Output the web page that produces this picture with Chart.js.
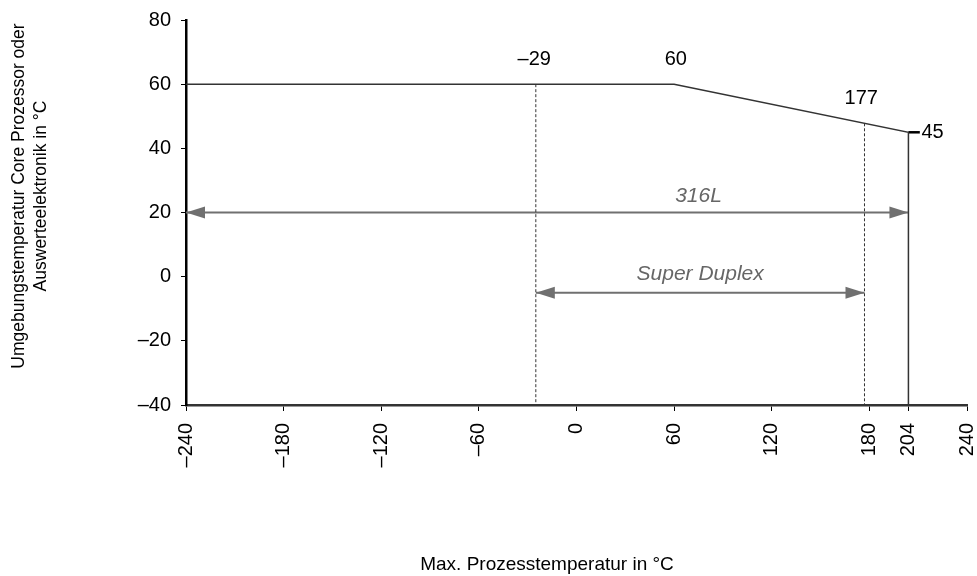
<!DOCTYPE html>
<html>
<head>
<meta charset="utf-8">
<script src="https://cdn.jsdelivr.net/npm/chart.js@4/dist/chart.umd.min.js"></script>
<style>
html, body { margin: 0; padding: 0; background: #fff; }
#rahmen { width: 977px; height: 576px; }
</style>
</head>
<body>
<div id="rahmen"><canvas id="graficoTemperatur"></canvas></div>
<script>
// Daten der Kurve (Prozesstemperatur -> Umgebungstemperatur)
var kurveX = [-240, 60, 204, 204];
var kurveY = [60, 60, 45, -40];

var markeX = [204, 211];
var markeY = [45, 45];

var strichLinksX = [-25, -25];
var strichLinksY = [60, -40];
var strichRechtsX = [177, 177];
var strichRechtsY = [47.8, -40];

var pfeil316X = [-240, 204];
var pfeil316Y = [20, 20];
var pfeilDuplexX = [-25, 177];
var pfeilDuplexY = [-5, -5];

var werteTexte = ['\u201329', '60', '177', '45'];
var werteX = [-26, 61, 175, 212];
var werteY = [67.8, 67.8, 55.6, 45];

var pfeilTexte = ['316L', 'Super Duplex'];
var pfeilTextX = [75, 76];
var pfeilTextY = [25, 0.8];

var xTicks = [-240, -180, -120, -60, 0, 60, 120, 180, 204, 240];
var yMin = -40, yMax = 80, yStep = 20;

var titelX = 'Max. Prozesstemperatur in \u00b0C';
var titelY = ['Umgebungstemperatur Core Prozessor oder', 'Auswerteelektronik in \u00b0C'];

var schrift = '"Liberation Sans", Arial, Helvetica, sans-serif';

function punkte(xs, ys) {
	return xs.map(function(x, i) { return { x: x, y: ys[i] }; });
}

function zahl(v) {
	return v < 0 ? '\u2013' + Math.abs(v) : String(v);
}

var beschriftung = {
	id: 'beschriftung',
	afterDatasetsDraw: function(chart) {
		var ctx = chart.ctx;
		var sx = chart.scales.x, sy = chart.scales.y;
		ctx.save();

		// Pfeilspitzen
		chart.data.datasets.forEach(function(ds) {
			if (!ds.pfeil) return;
			var a = ds.data[0], b = ds.data[ds.data.length - 1];
			var x1 = sx.getPixelForValue(a.x), x2 = sx.getPixelForValue(b.x);
			var y = sy.getPixelForValue(a.y);
			ctx.fillStyle = ds.borderColor;
			[[x1, 1], [x2, -1]].forEach(function(p) {
				ctx.beginPath();
				ctx.moveTo(p[0], y);
				ctx.lineTo(p[0] + p[1] * 19, y - 6);
				ctx.lineTo(p[0] + p[1] * 19, y + 6);
				ctx.closePath();
				ctx.fill();
			});
		});

		ctx.textBaseline = 'middle';
		ctx.fillStyle = '#000';
		ctx.font = '20px ' + schrift;
		werteTexte.forEach(function(t, i) {
			ctx.textAlign = i === 3 ? 'left' : 'center';
			ctx.fillText(t, sx.getPixelForValue(werteX[i]), sy.getPixelForValue(werteY[i]));
		});

		ctx.fillStyle = '#666';
		ctx.font = 'italic 21px ' + schrift;
		ctx.textAlign = 'center';
		pfeilTexte.forEach(function(t, i) {
			ctx.fillText(t, sx.getPixelForValue(pfeilTextX[i]), sy.getPixelForValue(pfeilTextY[i]));
		});

		// Achsentitel
		ctx.fillStyle = '#000';
		ctx.font = '19px ' + schrift;
		ctx.fillText(titelX, 547, 565);
		ctx.font = '17.5px ' + schrift;
		ctx.translate(0, 196);
		ctx.rotate(-Math.PI / 2);
		ctx.fillText(titelY[0], 0, 19);
		ctx.fillText(titelY[1], 0, 41);
		ctx.restore();
	}
};

var linie = function(daten, farbe, breite, strich) {
	return {
		data: daten,
		showLine: true,
		borderColor: farbe,
		borderWidth: breite,
		borderDash: strich || [],
		pointRadius: 0,
		fill: false
	};
};

var pfeil316 = linie(punkte(pfeil316X, pfeil316Y), '#707070', 2);
pfeil316.pfeil = true;
var pfeilDuplex = linie(punkte(pfeilDuplexX, pfeilDuplexY), '#707070', 2);
pfeilDuplex.pfeil = true;

var grafico = new Chart(document.getElementById('graficoTemperatur').getContext('2d'), {
	type: 'scatter',
	data: {
		datasets: [
			linie(punkte(kurveX, kurveY), '#333', 1.5),
			linie(punkte(markeX, markeY), '#000', 2.5),
			linie(punkte(strichLinksX, strichLinksY), '#333', 1, [3, 2]),
			linie(punkte(strichRechtsX, strichRechtsY), '#333', 1, [3, 2]),
			pfeil316,
			pfeilDuplex
		]
	},
	options: {
		responsive: true,
		maintainAspectRatio: false,
		animation: false,
		layout: { padding: { top: 20, right: 10, left: 0, bottom: 0 } },
		plugins: { legend: { display: false }, tooltip: { enabled: false } },
		scales: {
			x: {
				type: 'linear',
				min: -240,
				max: 240,
				afterBuildTicks: function(axis) {
					axis.ticks = xTicks.map(function(v) { return { value: v }; });
				},
				afterFit: function(axis) {
					axis.height = 171;
					axis.paddingLeft = 0;
					axis.paddingRight = 0;
				},
				ticks: {
					autoSkip: false,
					minRotation: 90,
					maxRotation: 90,
					padding: 12,
					color: '#000',
					font: { family: schrift, size: 20 },
					callback: function(v) { return zahl(v); }
				},
				grid: { drawOnChartArea: false, drawTicks: true, tickLength: 6, color: '#000', lineWidth: 1 },
				border: { display: true, color: '#333', width: 2.5 }
			},
			y: {
				min: yMin,
				max: yMax,
				afterFit: function(axis) {
					axis.width = 186;
					axis.paddingTop = 0;
					axis.paddingBottom = 0;
				},
				ticks: {
					stepSize: yStep,
					padding: 10,
					color: '#000',
					font: { family: schrift, size: 20 },
					callback: function(v) { return zahl(v); }
				},
				grid: { drawOnChartArea: false, drawTicks: true, tickLength: 5, color: '#000', lineWidth: 1 },
				border: { display: true, color: '#000', width: 2.5 }
			}
		}
	},
	plugins: [beschriftung]
});
</script>
</body>
</html>
